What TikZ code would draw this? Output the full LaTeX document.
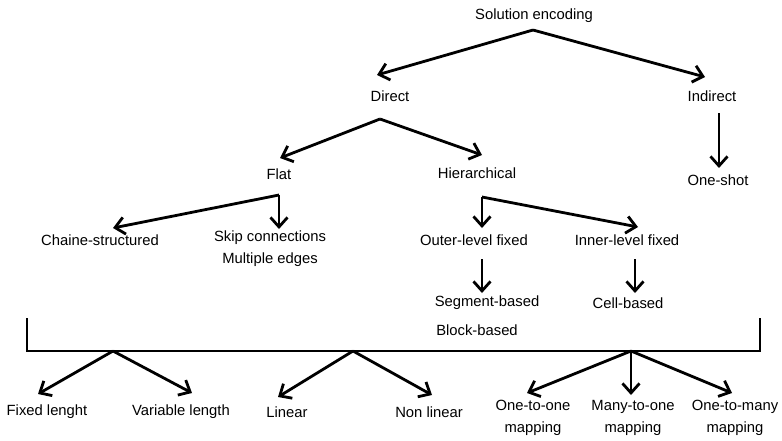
\documentclass[tikz,border=0pt]{standalone}
\usepackage{fontspec}
\setmainfont{Liberation Sans}
\usetikzlibrary{arrows.meta}
\tikzset{
  lbl/.style={inner sep=0pt, font=\fontsize{14.8}{22}\selectfont, align=center},
  conn/.style={line width=2.8pt, -{Straight Barb[length=9.5pt,width=17pt,line width=2.8pt]}, line join=miter},
  plain/.style={line width=2.8pt, line join=miter}
}
\begin{document}
\begin{tikzpicture}[x=1pt,y=-1pt]
\useasboundingbox (0,0) rectangle (782,440);
% text nodes
\node[lbl] (se) at (534,16) {Solution encoding};
\node[lbl] (direct) at (390,96) {Direct};
\node[lbl] (indirect) at (712,96) {Indirect};
\node[lbl] (flat) at (279,174) {Flat};
\node[lbl] (hier) at (477,173) {Hierarchical};
\node[lbl] (oneshot) at (718,180) {One-shot};
\node[lbl] (chaine) at (100,240) {Chaine-structured};
\node[lbl] (skip) at (270,249) {Skip connections\\Multiple edges};
\node[lbl] (outer) at (474,240) {Outer-level fixed};
\node[lbl] (inner) at (627,240) {Inner-level fixed};
\node[lbl] (segment) at (487,303) {Segment-based};
\node[lbl] (cell) at (628,303) {Cell-based};
\node[lbl] (block) at (477,330) {Block-based};
\node[lbl] (fixed) at (47,412) {Fixed lenght};
\node[lbl] (variable) at (181,412) {Variable length};
\node[lbl] (linear) at (287,412) {Linear};
\node[lbl] (nonlinear) at (429,412) {Non linear};
\node[lbl] (oto) at (533,418) {One-to-one\\mapping};
\node[lbl] (mto) at (633,418) {Many-to-one\\mapping};
\node[lbl] (otm) at (735,418) {One-to-many\\mapping};
% apex and tip coordinates
\coordinate (aSE) at (533,30);
\coordinate (tDirect) at (377,75);
\coordinate (tIndirect) at (705,77);
\coordinate (aDirect) at (380,119);
\coordinate (tFlat) at (280,158);
\coordinate (tHier) at (482,155);
\coordinate (aIndirect) at (719,113);
\coordinate (tOneshot) at (719,168);
\coordinate (aFlat) at (279,195);
\coordinate (tChaine) at (113,228);
\coordinate (tSkip) at (279,229);
\coordinate (aHier) at (482,197);
\coordinate (tOuter) at (482,228);
\coordinate (tInner) at (638,227);
\coordinate (aOuter) at (482,259);
\coordinate (tSegment) at (482,293);
\coordinate (aInner) at (635,259);
\coordinate (tCell) at (635,293);
\coordinate (bL) at (27,318);
\coordinate (bLL) at (27,351);
\coordinate (bRR) at (760,351);
\coordinate (bR) at (760,318);
\coordinate (aLen) at (113,351);
\coordinate (tFixed) at (38,394);
\coordinate (tVariable) at (192,393);
\coordinate (aLin) at (353,351);
\coordinate (tLinear) at (278,397);
\coordinate (tNonlinear) at (432,395);
\coordinate (aMap) at (631,351);
\coordinate (tOto) at (527,393);
\coordinate (tMto) at (631,395);
\coordinate (tOtm) at (732,393);
% connectors
\draw[conn] (aSE) -- (tDirect);
\draw[conn] (aSE) -- (tIndirect);
\draw[conn] (aDirect) -- (tFlat);
\draw[conn] (aDirect) -- (tHier);
\draw[conn] (aIndirect) -- (tOneshot);
\draw[conn] (aFlat) -- (tChaine);
\draw[conn] (aFlat) -- (tSkip);
\draw[conn] (aHier) -- (tOuter);
\draw[conn] (aHier) -- (tInner);
\draw[conn] (aOuter) -- (tSegment);
\draw[conn] (aInner) -- (tCell);
\draw[plain] (bL) -- (bLL) -- (bRR) -- (bR);
\draw[conn] (aLen) -- (tFixed);
\draw[conn] (aLen) -- (tVariable);
\draw[conn] (aLin) -- (tLinear);
\draw[conn] (aLin) -- (tNonlinear);
\draw[conn] (aMap) -- (tOto);
\draw[conn] (aMap) -- (tMto);
\draw[conn] (aMap) -- (tOtm);
\end{tikzpicture}
\end{document}
